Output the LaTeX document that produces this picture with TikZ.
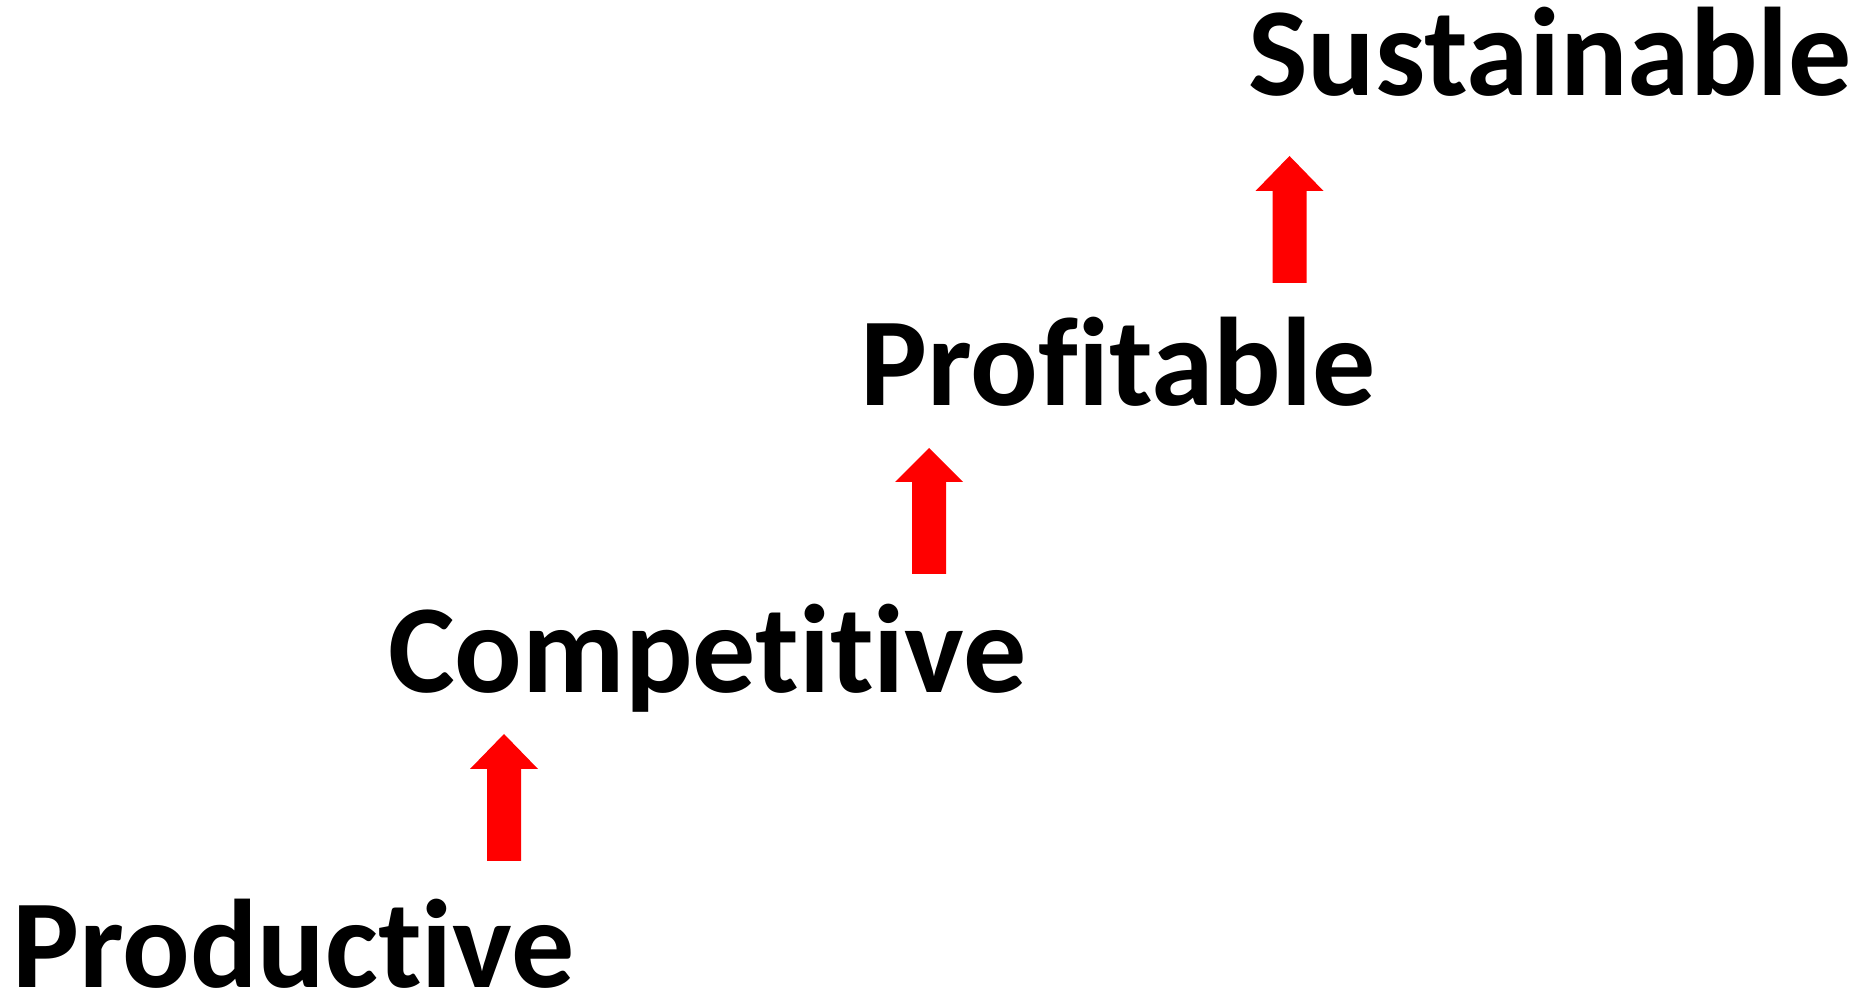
\documentclass[tikz,border=0pt]{standalone}
\usepackage{fontspec}
\setmainfont{Carlito}[Ligatures=CommonOff]
\begin{document}
\begin{tikzpicture}[x=1pt,y=1pt,
  word/.style={inner sep=0pt, anchor=base west, font=\fontsize{126}{130}\selectfont\bfseries},
  uparrow/.style={fill=red, draw=none}]
\useasboundingbox (0,0) rectangle (1872,993);
\node[word] (prod) at (12,5) {Productive};
\node[word] (comp) at (388,300.5) {Competitive};
\node[word] (prof) at (860,587) {Profitable};
\node[word] (sust) at (1248,897.5) {Sustainable};
% arrows
\newcommand{\uparr}[4]{% #1 center x, #2 bottom y, #3 head base y, #4 tip y
  \fill[uparrow] (#1-17,#2) -- (#1+17,#2) -- (#1+17,#3) -- (#1+34,#3) -- (#1,#4) -- (#1-34,#3) -- (#1-17,#3) -- cycle;}
\uparr{504}{132}{224}{259}
\uparr{929}{419}{511}{545}
\uparr{1289.5}{710}{802}{837}
\end{tikzpicture}
\end{document}
